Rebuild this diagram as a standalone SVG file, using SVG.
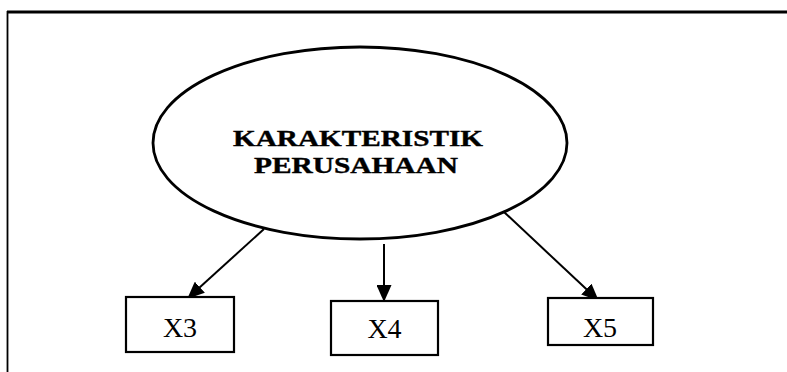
<svg xmlns="http://www.w3.org/2000/svg" width="787" height="372" viewBox="0 0 787 372">
  <style>
    .frame { fill: none; stroke: #000; }
    .shape { fill: #fff; stroke: #000; stroke-width: 2.2; }
    .oval { fill: none; stroke: #000; stroke-width: 2.8; }
    .edge { fill: none; stroke: #000; stroke-width: 2; }
    .title { font-family: "Liberation Serif", "Times New Roman", serif; font-weight: bold; font-size: 24px; fill: #000; stroke: #000; stroke-width: 0.4; }
    .label { font-family: "Liberation Serif", "Times New Roman", serif; font-size: 28px; fill: #000; }
  </style>
  <defs>
    <marker id="arrow" markerUnits="userSpaceOnUse" markerWidth="17" markerHeight="15" refX="16" refY="7.5" orient="auto">
      <path d="M0,0 L17,7.5 L0,15 Z" fill="#000"/>
    </marker>
  </defs>

  <rect width="787" height="372" fill="#fff"/>

  <!-- open frame: top and left rules only -->
  <g id="frame">
    <line class="frame" x1="7" y1="12" x2="787" y2="12" stroke-width="3"/>
    <line class="frame" x1="7.5" y1="11" x2="7.5" y2="372" stroke-width="1.8"/>
  </g>

  <!-- connectors -->
  <g id="connectors">
    <line class="edge" x1="264" y1="229" x2="188" y2="298" marker-end="url(#arrow)"/>
    <line class="edge" x1="384" y1="244" x2="384" y2="301" marker-end="url(#arrow)"/>
    <line class="edge" x1="504" y1="212" x2="598" y2="300" marker-end="url(#arrow)"/>
  </g>

  <g id="karakteristik">
    <ellipse class="oval" cx="360" cy="143" rx="207" ry="96"/>
    <text class="title" x="358" y="146" text-anchor="middle" textLength="250" lengthAdjust="spacingAndGlyphs">KARAKTERISTIK</text>
    <text class="title" x="356" y="173" text-anchor="middle" textLength="204" lengthAdjust="spacingAndGlyphs">PERUSAHAAN</text>
  </g>

  <g id="x3">
    <rect class="shape" x="126" y="297" width="108" height="55"/>
    <text class="label" x="180" y="337" text-anchor="middle">X3</text>
  </g>

  <g id="x4">
    <rect class="shape" x="331" y="301" width="107" height="54"/>
    <text class="label" x="384.5" y="338" text-anchor="middle">X4</text>
  </g>

  <g id="x5">
    <rect class="shape" x="548" y="298" width="105" height="47"/>
    <text class="label" x="600" y="337" text-anchor="middle">X5</text>
  </g>
</svg>
